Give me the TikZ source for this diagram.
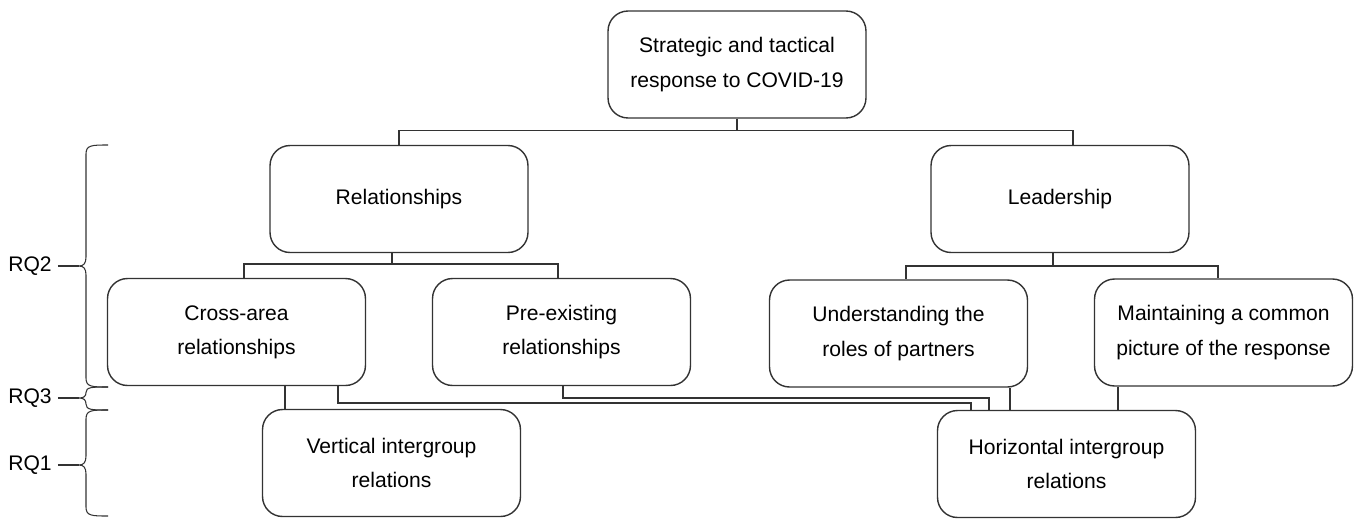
\documentclass[tikz,border=0pt]{standalone}
\usepackage{fontspec}
\setmainfont{Liberation Sans}
\usepackage{xcolor}
\usepackage{tikz}
\usetikzlibrary{calc,positioning}
\definecolor{LineGray}{HTML}{333333}
\tikzset{ThemeBox/.style={draw=LineGray, line width=0.8pt, rounded corners=0.4cm, minimum width=5.16cm, minimum height=2.14cm, inner sep=0pt, align=center, font=\fontsize{12}{19.5}\selectfont},
  Link/.style={draw=LineGray, line width=0.8pt},
  Brc/.style={draw=LineGray, line width=0.6pt}}

\begin{document}
\begin{tikzpicture}[x=0.02cm, y=-0.02cm]
\useasboundingbox (0,0) rectangle (1355,518);

\node[ThemeBox] (T) at (737,64.5) {Strategic and tactical\\response to COVID-19};
\node[ThemeBox] (Rel) at (399,199) {Relationships};
\node[ThemeBox] (Lead) at (1060,199) {Leadership};
\node[ThemeBox] (CA) at (236.5,332) {Cross-area\\relationships};
\node[ThemeBox] (PE) at (561.5,332) {Pre-existing\\relationships};
\node[ThemeBox] (UR) at (898.5,333.5) {Understanding the\\roles of partners};
\node[ThemeBox] (MC) at (1223.5,332.5) {Maintaining a common\\picture of the response};
\node[ThemeBox] (VI) at (391.5,463) {Vertical intergroup\\relations};
\node[ThemeBox] (HI) at (1066.5,464) {Horizontal intergroup\\relations};

\draw[Link] (T.south) -- ++(0,12) coordinate (t1) -| (Rel.north);
\draw[Link] (t1) -| ($(Lead.north)+(13,0)$);

\draw[Link] ($(Rel.south)+(-7,0)$) -- ++(0,11) coordinate (r1) -| ($(CA.north)+(7.5,0)$);
\draw[Link] (r1) -| ($(PE.north)+(-3.5,0)$);

\draw[Link] ($(Lead.south)+(-7,0)$) -- ++(0,13) coordinate (l1) -| ($(UR.north)+(7.5,0)$);
\draw[Link] (l1) -| ($(MC.north)+(-5.5,0)$);

\draw[Link] ($(CA.south)+(48.5,0)$) coordinate (c1) -- (c1 |- VI.north);
\draw[Link] ($(CA.south)+(101.5,0)$) -- ++(0,17) -| ($(HI.north)+(-95.5,0)$);
\draw[Link] ($(PE.south)+(1.5,0)$) -- ++(0,12) -| ($(HI.north)+(-77.5,0)$);
\draw[Link] ($(UR.south)+(111.5,0)$) coordinate (u1) -- (u1 |- HI.north);
\draw[Link] ($(MC.south)+(-105.5,0)$) coordinate (m1) -- (m1 |- HI.north);

\foreach \t/\m/\b/\n in {145/266/387/2, 387/398/410/3, 410/465/516/1} {
  \pgfmathsetmacro{\d}{min(9,(\m-\t)/2)}
  \pgfmathsetmacro{\e}{min(9,(\b-\m)/2)}
  \draw[Brc] (108,\t) .. controls (92,\t) and (86,\t) .. (86,\t+\d) -- (86,\m-\d) .. controls (86,\m-\d/3) and (84,\m) .. (79,\m) .. controls (84,\m) and (86,\m+\e/3) .. (86,\m+\e) -- (86,\b-\e) .. controls (86,\b) and (92,\b) .. (108,\b);
  \coordinate (tip\n) at (79,\m);
  \node[font=\fontsize{12}{14}\selectfont] (RQ\n) at (30,\m) {RQ\n};
  \draw[Brc] (RQ\n.east) -- (tip\n);
}
\end{tikzpicture}
\end{document}
